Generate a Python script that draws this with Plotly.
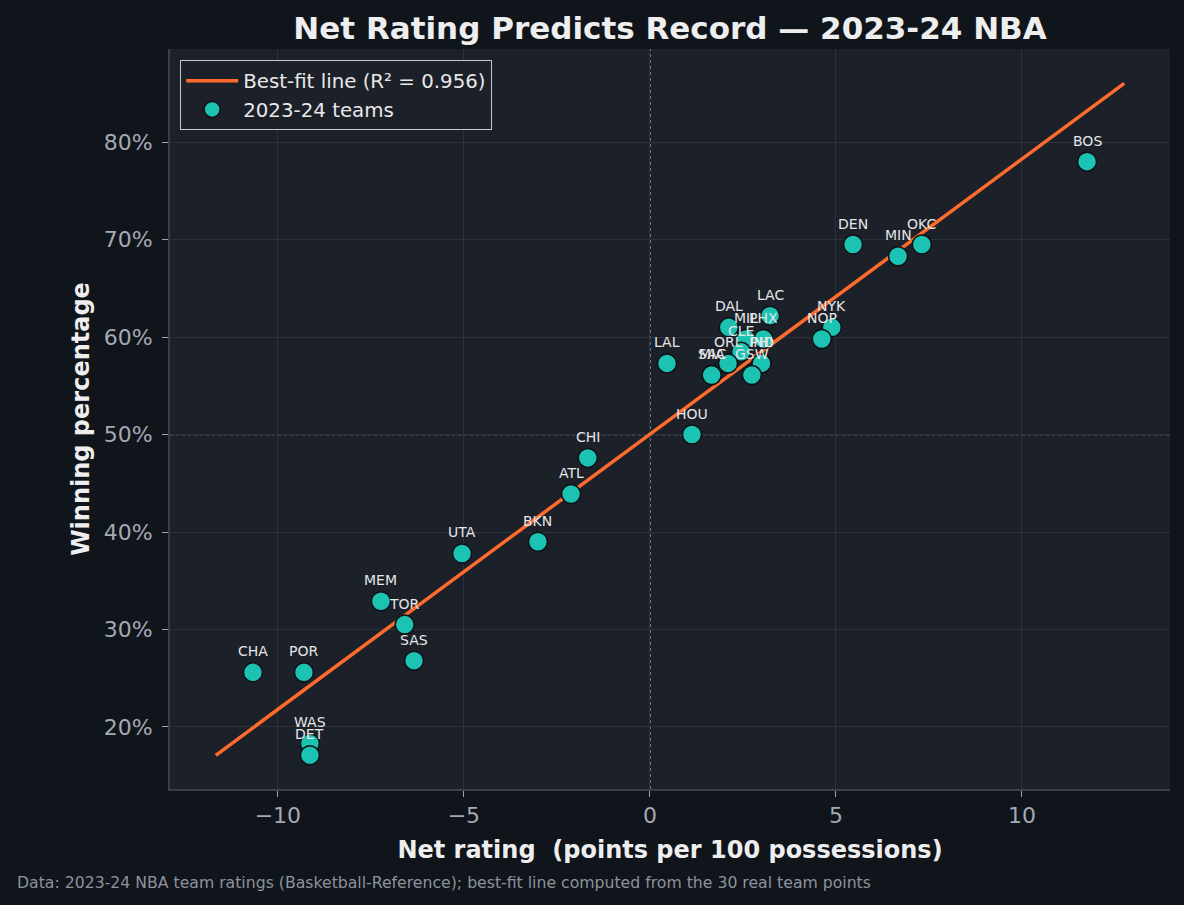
import numpy as np
import plotly.graph_objects as go

teams = ["BOS", "OKC", "MIN", "DEN", "NYK", "NOP", "LAC", "PHX", "MIL", "DAL",
         "CLE", "IND", "PHI", "ORL", "GSW", "SAC", "MIA", "LAL", "HOU", "CHI",
         "ATL", "BKN", "UTA", "MEM", "TOR", "SAS", "POR", "CHA", "WAS", "DET"]
net_rating = [11.75, 7.31, 6.67, 5.46, 4.89, 4.62, 3.23, 3.05, 2.58, 2.12,
              2.45, 3.0, 3.0, 2.1, 2.74, 1.66, 1.66, 0.46, 1.13, -1.67,
              -2.12, -3.01, -5.05, -7.23, -6.59, -6.34, -9.30, -10.67, -9.14, -9.14]
win_pct = [0.780, 0.695, 0.683, 0.695, 0.610, 0.598, 0.622, 0.598, 0.598, 0.610,
           0.585, 0.573, 0.573, 0.573, 0.561, 0.561, 0.561, 0.573, 0.500, 0.476,
           0.439, 0.390, 0.378, 0.329, 0.305, 0.268, 0.256, 0.256, 0.183, 0.171]

fit_label = "Best-fit line (R² = 0.956)"
scatter_label = "2023-24 teams"
title = "Net Rating Predicts Record — 2023-24 NBA"
x_title = "Net rating\u00a0 (points per 100 possessions)"
y_title = "Winning percentage"
footer = ("Data: 2023-24 NBA team ratings (Basketball-Reference); "
          "best-fit line computed from the 30 real team points")

x = np.array(net_rating)
y = np.array(win_pct)
slope, intercept = np.polyfit(x, y, 1)
fx = np.array([x.min() - 1, x.max() + 1])
fy = slope * fx + intercept

PAPER = "#10141b"
PLOT = "#1c2029"
GRID = "#2c313b"
FONT = "DejaVu Sans"

fig = go.Figure()
fig.add_trace(go.Scatter(x=fx, y=fy, mode="lines", name=fit_label,
                         line=dict(color="#ff6b2c", width=3.5)))
fig.add_trace(go.Scatter(x=x, y=y, mode="markers", name=scatter_label,
                         marker=dict(size=19, color="#1cc3b2",
                                     line=dict(color="#0e1116", width=1.5))))

for t, xv, yv in zip(teams, net_rating, win_pct):
    fig.add_annotation(x=xv, y=yv, text=t, showarrow=False, yshift=21,
                       font=dict(size=14, color="#e6e6e6", family=FONT))

fig.add_hline(y=0.5, line=dict(color="#a8adb6", width=1.3, dash="dot"), layer="below")
fig.add_vline(x=0, line=dict(color="#a8adb6", width=1.3, dash="dot"), layer="below")

fig.add_annotation(text=footer, xref="paper", yref="paper", x=-0.155, y=-0.1257,
                   xanchor="left", yanchor="middle", showarrow=False,
                   font=dict(size=15.7, color="#8d939c", family=FONT))

fig.update_layout(
    width=1184, height=905,
    margin=dict(l=170, r=14, t=49, b=116),
    paper_bgcolor=PAPER, plot_bgcolor=PLOT,
    font=dict(family=FONT, color="#e8e8e8"),
    title=dict(text=title, x=0.5659, xanchor="center", y=0.969, yanchor="middle",
               font=dict(size=31, color="#eeeeee", family=FONT, weight="bold")),
    showlegend=True,
    legend=dict(x=0.01, y=0.985, xanchor="left", yanchor="top",
                bgcolor=PLOT, bordercolor="#c8c8c8", borderwidth=1.2,
                font=dict(size=19.8, color="#e8e8e8", family=FONT),
                itemwidth=52, tracegroupgap=0),
)
fig.update_xaxes(range=[-12.9, 13.98], tickvals=[-10, -5, 0, 5, 10],
                 showgrid=True, gridcolor=GRID, gridwidth=1.2, zeroline=False,
                 showline=True, linecolor="#383e4a", linewidth=2,
                 ticks="outside", ticklen=6, tickcolor="#a0a6b0", tickwidth=1.2,
                 tickfont=dict(size=22, color="#a4a9b3", family=FONT),
                 title=dict(text=x_title, standoff=14,
                            font=dict(size=24, color="#eeeeee", family=FONT, weight="bold")))
fig.update_yaxes(range=[0.1363, 0.8956], tickvals=[0.2, 0.3, 0.4, 0.5, 0.6, 0.7, 0.8],
                 tickformat=".0%", ticklabelstandoff=5,
                 showgrid=True, gridcolor=GRID, gridwidth=1.2, zeroline=False,
                 showline=True, linecolor="#383e4a", linewidth=2,
                 ticks="outside", ticklen=6, tickcolor="#a0a6b0", tickwidth=1.2,
                 tickfont=dict(size=22, color="#a4a9b3", family=FONT),
                 title=dict(text=y_title, standoff=7,
                            font=dict(size=24, color="#eeeeee", family=FONT, weight="bold")))

fig.write_html("out.html")
